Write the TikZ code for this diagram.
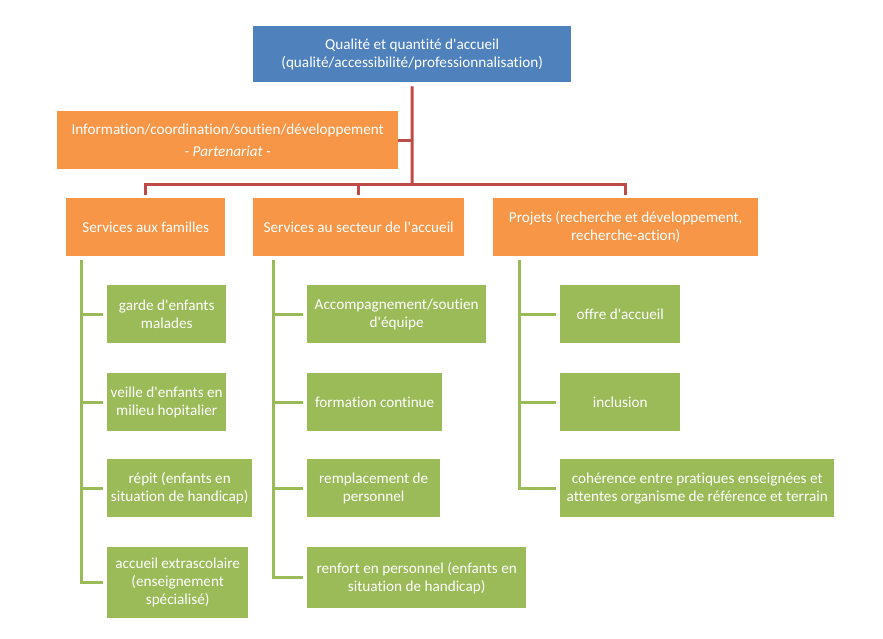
\documentclass[tikz,border=0pt]{standalone}
\usepackage{fontspec}
\setmainfont{Carlito}[Ligatures={TeXOff,NoCommon}]
\definecolor{headblue}{HTML}{4F81BD}
\definecolor{secorange}{HTML}{F79646}
\definecolor{leafgreen}{HTML}{9BBB59}
\definecolor{busred}{HTML}{BE4B48}
\begin{document}
\begin{tikzpicture}
        [
            x=1pt, y=-1pt,
            card/.style={draw=none, text=white, align=center, anchor=north west, inner sep=2pt, font=\fontsize{15.2}{18}\selectfont},
            headcard/.style={card, fill=headblue},
            seccard/.style={card, fill=secorange},
            leafcard/.style={card, fill=leafgreen},
            redline/.style={draw=busred, line width=3pt},
            greenline/.style={draw=leafgreen, line width=3pt, shorten >=4pt}
        ]
        \useasboundingbox (0, 0) rectangle (883, 638);

        \node[headcard, minimum width=318pt, minimum height=56pt] (top) at (253, 26) {Qualité et quantité d'accueil\\(qualité/accessibilité/professionnalisation)};
        \node[seccard, minimum width=341pt, minimum height=58pt] (info) at (57, 111) {Information/coordination/soutien/développement\\[4pt]\textit{- Partenariat -}};
        \node[seccard, minimum width=159pt, minimum height=58pt] (fam) at (66, 198) {Services aux familles};
        \node[seccard, minimum width=211pt, minimum height=58pt] (sect) at (253, 198) {Services au secteur de l'accueil};
        \node[seccard, minimum width=265pt, minimum height=58pt] (proj) at (493, 198) {Projets (recherche et développement,\\recherche-action)};

        \node[leafcard, minimum width=119pt, minimum height=58pt] (fa) at (107, 285) {garde d'enfants\\malades};
        \node[leafcard, minimum width=119pt, minimum height=58pt] (fb) at (107, 373) {veille d'enfants en\\milieu hopitalier};
        \node[leafcard, minimum width=145pt, minimum height=58pt] (fc) at (107, 459) {répit (enfants en\\situation de handicap)};
        \node[leafcard, minimum width=141pt, minimum height=71pt] (fd) at (107, 547) {accueil extrascolaire\\(enseignement\\spécialisé)};

        \node[leafcard, minimum width=179pt, minimum height=58pt] (sa) at (307, 285) {Accompagnement/soutien\\d'équipe};
        \node[leafcard, minimum width=135pt, minimum height=58pt] (sb) at (307, 373) {formation continue};
        \node[leafcard, minimum width=133pt, minimum height=58pt] (sc) at (307, 459) {remplacement de\\personnel};
        \node[leafcard, minimum width=219pt, minimum height=61pt] (sd) at (307, 547) {renfort en personnel (enfants en\\situation de handicap)};

        \node[leafcard, minimum width=120pt, minimum height=58pt] (pa) at (560, 285) {offre d'accueil};
        \node[leafcard, minimum width=120pt, minimum height=58pt] (pb) at (560, 373) {inclusion};
        \node[leafcard, minimum width=274pt, minimum height=58pt] (pc) at (560, 459) {cohérence entre pratiques enseignées et\\attentes organisme de référence et terrain};

        \coordinate (bus) at (412, 184);
        \coordinate (famtrunk) at (81, 260);
        \coordinate (secttrunk) at (273, 260);
        \coordinate (projtrunk) at (519, 260);

        \draw[redline, shorten <=4pt] (top.south) -- (bus);
        \draw[redline] (info.east) -- (info.east -| bus);
        \draw[redline, shorten >=3pt] (bus) -| (fam.north);
        \draw[redline, shorten >=3pt] (bus) -| (sect.north);
        \draw[redline, shorten >=3pt] (bus) -| (proj.north);

        \draw[greenline] (famtrunk) |- (fa.west);
        \draw[greenline] (famtrunk) |- (fb.west);
        \draw[greenline] (famtrunk) |- (fc.west);
        \draw[greenline] (famtrunk) |- (fd.west);
        \draw[greenline] (secttrunk) |- (sa.west);
        \draw[greenline] (secttrunk) |- (sb.west);
        \draw[greenline] (secttrunk) |- (sc.west);
        \draw[greenline] (secttrunk) |- (sd.west);
        \draw[greenline] (projtrunk) |- (pa.west);
        \draw[greenline] (projtrunk) |- (pb.west);
        \draw[greenline] (projtrunk) |- (pc.west);
    \end{tikzpicture}
\end{document}
